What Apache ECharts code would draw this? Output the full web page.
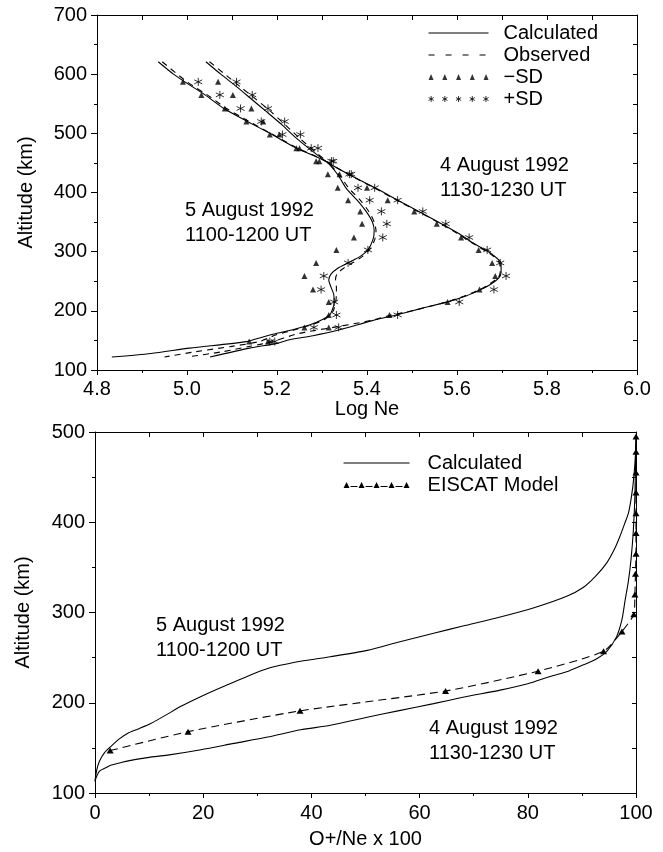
<!DOCTYPE html>
<html>
<head>
<meta charset="utf-8">
<script src="https://cdn.jsdelivr.net/npm/echarts@6/dist/echarts.min.js"></script>
<style>
html,body{margin:0;padding:0;background:#fff;}
#chart{width:663px;height:852px;}
</style>
</head>
<body>
<div id="chart"></div>
<script>
// ---------- Top panel: Log Ne vs altitude ----------
const aug4CalcAlt = [621,600,579,558,537,515,492,472,452,430,407,387,368,348,331,315,305,295,280,265,255,245,235,225,216,205,193,183,168,158,151,145,137,122];
const aug4CalcNe  = [5.042,5.075,5.11,5.143,5.176,5.21,5.243,5.275,5.31,5.361,5.42,5.468,5.515,5.563,5.603,5.635,5.658,5.679,5.698,5.698,5.692,5.675,5.65,5.62,5.583,5.525,5.465,5.41,5.339,5.28,5.228,5.2,5.139,5.051];

const aug4ObsAlt = [621,579,537,492,452,430,407,387,368,348,331,315,295,280,265,255,235,216,200,193,184,178,172,165,160,148,140,131,122];
const aug4ObsNe  = [5.05,5.118,5.186,5.25,5.312,5.36,5.418,5.466,5.513,5.562,5.6,5.633,5.676,5.695,5.696,5.69,5.648,5.582,5.5,5.455,5.41,5.37,5.325,5.27,5.24,5.19,5.14,5.08,5.0];

const aug5CalcAlt = [621,600,587,565,542,521,500,475,452,430,407,387,368,350,335,320,303,292,282,272,262,252,240,228,213,200,193,185,176,168,162,155,148,137,128,122];
const aug5CalcNe  = [4.936,4.97,4.995,5.04,5.082,5.132,5.184,5.243,5.31,5.335,5.354,5.378,5.398,5.412,5.416,5.413,5.402,5.385,5.36,5.335,5.32,5.315,5.32,5.326,5.327,5.322,5.317,5.3,5.272,5.235,5.2,5.165,5.132,5.006,4.92,4.833];

const aug5ObsAlt = [621,587,565,542,521,500,475,452,430,407,387,368,350,335,320,303,292,282,272,262,252,240,228,213,200,193,185,176,168,160,148,140,131,122];
const aug5ObsNe  = [4.945,5.0,5.045,5.088,5.136,5.186,5.245,5.31,5.338,5.36,5.385,5.404,5.416,5.42,5.417,5.405,5.39,5.37,5.348,5.333,5.33,5.332,5.332,5.33,5.325,5.318,5.305,5.275,5.24,5.2,5.16,5.1,5.02,4.95];

const sdAlt        = [587,565,542,520,498,475,453,431,408,387,368,347,324,303,281,259,236,215,193,172,148];
const aug4MinusSD  = [5.069,5.102,5.143,5.169,5.205,5.25,5.294,5.339,5.40,5.446,5.505,5.555,5.609,5.648,5.678,5.685,5.65,5.579,5.45,5.315,5.18];
const aug4PlusSD   = [5.11,5.145,5.18,5.217,5.252,5.291,5.325,5.365,5.417,5.468,5.524,5.575,5.627,5.667,5.696,5.709,5.682,5.605,5.468,5.337,5.195];
const aug5MinusSD  = [4.991,5.032,5.084,5.132,5.184,5.243,5.287,5.313,5.335,5.358,5.385,5.389,5.371,5.332,5.287,5.261,5.28,5.315,5.315,5.261,5.138];
const aug5PlusSD   = [5.025,5.073,5.119,5.165,5.212,5.276,5.321,5.361,5.38,5.406,5.432,5.444,5.435,5.402,5.358,5.304,5.298,5.327,5.332,5.282,5.184];

// ---------- Bottom panel: O+/Ne x 100 vs altitude ----------
const calc5Pct = [0,0.3,0.8,1.8,3,4.5,6,8,10.3,13,15.9,19.6,25.7,31.9,38,43.5,50.3,56,62.6,68,74.9,81,87.2,90.3,92.5,94.6,96,97,98,98.6,99.2,99.6,99.9,100];
const calc5Alt = [113,125,135,145,152,160,166,171,177,186,196,207,223,238,246,251,258,267,277,285,295,305,318,328,340,355,370,384,400,410,430,450,475,495];
const calc4Pct = [0,0.2,0.8,2,3,5,7.3,10,13.4,19.6,25.7,31.9,38,43.5,50.3,56,62.6,68,74.9,80,84.1,87.5,90.3,92.5,94.6,96.4,97.4,98,98.6,99.1,99.5,99.8,100];
const calc4Alt = [113,117,124,128,131,134,137,139.5,142,148,155,162,170,175,184,191,199,206,214,221,229,235,242,248,257,273,292,314,335,360,390,430,495];
const eiscatPct = [2.8,17.2,37.9,64.8,81.9,94,97.4,99.6,99.8,99.9,100,100,100,100,100,100,100];
const eiscatAlt = [147,168,191,213,235,257,279,298,320,343,365,388,410,433,455,478,495];

// ---------- Tick / axis settings ----------
const logNeRange = [4.8, 6.0];
const topAltRange = [100, 700];
const pctRange = [0, 100];
const botAltRange = [100, 500];

const FONT = "'Liberation Sans', Arial, Helvetica, sans-serif";
const BLACK = '#000';
const CLEAR = 'rgba(0,0,0,0)';
const pairs = (xs, ys) => xs.map((x, i) => [x, ys[i]]);

const txt = { color: BLACK, fontSize: 20, fontFamily: FONT };
function mainAxis(extra) {
  return Object.assign({
    type: 'value',
    axisLine: { show: true, onZero: false, lineStyle: { color: BLACK, width: 1 } },
    axisTick: { show: true, inside: false, length: 6, lineStyle: { color: BLACK, width: 1 } },
    minorTick: { show: true, splitNumber: 2, length: 3, lineStyle: { color: BLACK, width: 1 } },
    splitLine: { show: false },
    minorSplitLine: { show: false },
    nameTextStyle: txt,
    nameLocation: 'middle'
  }, extra);
}
function frameAxis(extra) {
  return Object.assign({
    type: 'value',
    axisLine: { show: true, onZero: false, lineStyle: { color: BLACK, width: 1 } },
    axisTick: { show: true, inside: true, length: 5, lineStyle: { color: BLACK, width: 1 } },
    axisLabel: { show: false },
    splitLine: { show: false }
  }, extra);
}

const lineBase = { type: 'line', symbol: 'none', smooth: 0.25, color: BLACK, itemStyle: { color: BLACK } };
const solid = { color: BLACK, width: 1.1, type: 'solid' };
const dashed = { color: BLACK, width: 1.1, type: [6, 5] };
const STAR = 'path://M5,0L5,10M0.67,2.5L9.33,7.5M0.67,7.5L9.33,2.5';
const triSD = { type: 'scatter', symbol: 'triangle', symbolSize: [6, 6], color: BLACK, itemStyle: { color: BLACK, borderWidth: 0 } };
const starSD = { type: 'scatter', symbol: STAR, symbolSize: 8, color: BLACK, itemStyle: { color: BLACK, borderColor: BLACK, borderWidth: 1 } };

// legend icons
const triRowIcon = 'path://M0,6L2.5,0L5,6Z M13.75,6L16.25,0L18.75,6Z M27.5,6L30,0L32.5,6Z M41.25,6L43.75,0L46.25,6Z M55,6L57.5,0L60,6Z';
function starsIcon() {
  const cs = [2.6, 16.3, 30, 43.7, 57.4];
  return 'path://' + cs.map(c => `M${c},0L${c},6M${c-2.6},1.5L${c+2.6},4.5M${c-2.6},4.5L${c+2.6},1.5`).join('');
}
function eiscatIcon() {
  const cs = [3, 18, 33, 48, 63];
  let p = cs.map(c => `M${c-3},6L${c},0L${c+3},6Z`).join('');
  for (let i = 0; i < 4; i++) p += `M${cs[i]+4},4L${cs[i]+11},4L${cs[i]+11},5L${cs[i]+4},5Z`;
  return 'path://' + p;
}

const option = {
  animation: false,
  backgroundColor: '#fff',
  textStyle: { fontFamily: FONT },
  grid: [
    { left: 97, right: 26, top: 15, height: 355, outerBoundsMode: 'none', containLabel: false },
    { left: 95, right: 27, top: 432, height: 361, outerBoundsMode: 'none', containLabel: false }
  ],
  xAxis: [
    mainAxis({ gridIndex: 0, position: 'bottom', min: logNeRange[0], max: logNeRange[1], interval: 0.2,
      axisTick: { show: true, inside: false, length: 5, lineStyle: { color: BLACK } },
      axisLabel: Object.assign({ margin: 9, showMinLabel: true, showMaxLabel: true, formatter: v => v.toFixed(1) }, txt),
      name: 'Log Ne', nameGap: 29 }),
    frameAxis({ gridIndex: 0, position: 'top', min: logNeRange[0], max: logNeRange[1], interval: 0.1 }),
    mainAxis({ gridIndex: 1, position: 'bottom', min: pctRange[0], max: pctRange[1], interval: 20,
      axisTick: { show: true, inside: false, length: 5, lineStyle: { color: BLACK } },
      axisLabel: Object.assign({ margin: 10, showMinLabel: true, showMaxLabel: true }, txt),
      name: 'O+/Ne x 100', nameGap: 36 }),
    frameAxis({ gridIndex: 1, position: 'top', min: pctRange[0], max: pctRange[1], interval: 10 })
  ],
  yAxis: [
    mainAxis({ gridIndex: 0, position: 'left', min: topAltRange[0], max: topAltRange[1], interval: 100,
      axisLabel: Object.assign({ margin: 10, showMinLabel: true, showMaxLabel: true }, txt),
      name: 'Altitude (km)', nameRotate: 90, nameGap: 61 }),
    frameAxis({ gridIndex: 0, position: 'right', min: topAltRange[0], max: topAltRange[1], interval: 50,
      axisTick: { show: true, inside: true, length: 4, lineStyle: { color: BLACK } } }),
    mainAxis({ gridIndex: 1, position: 'left', min: botAltRange[0], max: botAltRange[1], interval: 100,
      axisLabel: Object.assign({ margin: 10, showMinLabel: true, showMaxLabel: true }, txt),
      name: 'Altitude (km)', nameRotate: 90, nameGap: 62 }),
    frameAxis({ gridIndex: 1, position: 'right', min: botAltRange[0], max: botAltRange[1], interval: 50,
      axisTick: { show: true, inside: true, length: 4, lineStyle: { color: BLACK } } })
  ],
  legend: [
    {
      orient: 'vertical', left: 428, top: 23, padding: 0, itemGap: 2,
      itemWidth: 60, itemHeight: 6, selectedMode: false,
      lineStyle: { width: 1.1 },
      textStyle: Object.assign({ padding: [0, 0, 0, 10], lineHeight: 20 }, txt),
      data: [
        { name: 'Calculated', itemStyle: { color: CLEAR, borderColor: CLEAR, borderWidth: 0 },
          lineStyle: { color: BLACK, width: 1.1, type: 'solid' } },
        { name: 'Observed', itemStyle: { color: CLEAR, borderColor: CLEAR, borderWidth: 0 },
          lineStyle: { color: BLACK, width: 1.1, type: [6, 11] } },
        { name: '\u2212SD', icon: triRowIcon, itemStyle: { color: BLACK, borderWidth: 0 } },
        { name: '+SD', icon: starsIcon(), itemStyle: { color: BLACK, borderColor: BLACK, borderWidth: 1 } }
      ]
    },
    {
      orient: 'vertical', left: 343, top: 453, padding: 0, itemGap: 2,
      itemWidth: 66, itemHeight: 6, selectedMode: false,
      lineStyle: { width: 1.1 },
      textStyle: Object.assign({ padding: [0, 0, 0, 13], lineHeight: 20 }, txt),
      data: [
        { name: 'Calculated', itemStyle: { color: CLEAR, borderColor: CLEAR, borderWidth: 0 },
          lineStyle: { color: BLACK, width: 1.1, type: 'solid' } },
        { name: 'EISCAT Model', icon: eiscatIcon(), itemStyle: { color: BLACK, borderWidth: 0 } }
      ]
    }
  ],
  graphic: [
    { type: 'text', left: 185, top: 197.5, style: { text: '5 August 1992\n1100-1200 UT', font: '20px ' + FONT, fill: BLACK, lineHeight: 25 } },
    { type: 'text', left: 440, top: 152.5, style: { text: '4 August 1992\n1130-1230 UT', font: '20px ' + FONT, fill: BLACK, lineHeight: 25 } },
    { type: 'text', left: 156, top: 612.5, style: { text: '5 August 1992\n1100-1200 UT', font: '20px ' + FONT, fill: BLACK, lineHeight: 25 } },
    { type: 'text', left: 429, top: 716, style: { text: '4 August 1992\n1130-1230 UT', font: '20px ' + FONT, fill: BLACK, lineHeight: 25 } }
  ],
  series: [
    Object.assign({}, lineBase, { name: 'Calculated', xAxisIndex: 0, yAxisIndex: 0, data: pairs(aug4CalcNe, aug4CalcAlt), lineStyle: solid }),
    Object.assign({}, lineBase, { name: 'Calculated', xAxisIndex: 0, yAxisIndex: 0, data: pairs(aug5CalcNe, aug5CalcAlt), lineStyle: solid }),
    Object.assign({}, lineBase, { name: 'Observed', xAxisIndex: 0, yAxisIndex: 0, data: pairs(aug4ObsNe, aug4ObsAlt), lineStyle: dashed }),
    Object.assign({}, lineBase, { name: 'Observed', xAxisIndex: 0, yAxisIndex: 0, data: pairs(aug5ObsNe, aug5ObsAlt), lineStyle: dashed }),
    Object.assign({}, triSD, { name: '\u2212SD', xAxisIndex: 0, yAxisIndex: 0, data: pairs(aug4MinusSD, sdAlt) }),
    Object.assign({}, triSD, { name: '\u2212SD', xAxisIndex: 0, yAxisIndex: 0, data: pairs(aug5MinusSD, sdAlt) }),
    Object.assign({}, starSD, { name: '+SD', xAxisIndex: 0, yAxisIndex: 0, data: pairs(aug4PlusSD, sdAlt) }),
    Object.assign({}, starSD, { name: '+SD', xAxisIndex: 0, yAxisIndex: 0, data: pairs(aug5PlusSD, sdAlt) }),

    Object.assign({}, lineBase, { name: 'Calculated', xAxisIndex: 2, yAxisIndex: 2, data: pairs(calc5Pct, calc5Alt), lineStyle: solid }),
    Object.assign({}, lineBase, { name: 'Calculated', xAxisIndex: 2, yAxisIndex: 2, data: pairs(calc4Pct, calc4Alt), lineStyle: solid }),
    { type: 'line', name: 'EISCAT Model', xAxisIndex: 2, yAxisIndex: 2, data: pairs(eiscatPct, eiscatAlt),
      symbol: 'triangle', symbolSize: [7, 6], showSymbol: true, showAllSymbol: true, smooth: 0.2, color: BLACK,
      itemStyle: { color: BLACK, borderWidth: 0 }, lineStyle: { color: BLACK, width: 1.1, type: [8, 5] } }
  ]
};

const chart = echarts.init(document.getElementById('chart'), null, { renderer: 'canvas' });
chart.setOption(option);
</script>
</body>
</html>
